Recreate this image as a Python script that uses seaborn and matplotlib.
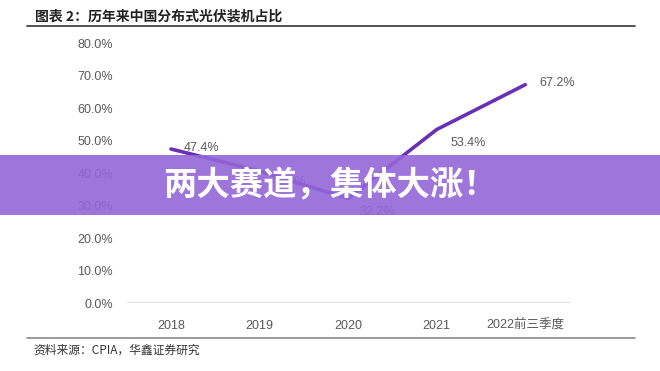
import matplotlib
matplotlib.use("Agg")
import matplotlib.pyplot as plt
import seaborn as sns
import pandas as pd
from matplotlib.lines import Line2D
from matplotlib.patches import Rectangle

years = ["2018", "2019", "2020", "2021", "2022前三季度"]
share = [0.474, 0.406, 0.322, 0.534, 0.672]
labels = ["47.4%", "40.6%", "32.2%", "53.4%", "67.2%"]
yticks = [0.0, 0.1, 0.2, 0.3, 0.4, 0.5, 0.6, 0.7, 0.8]

title = "图表 2：历年来中国分布式光伏装机占比"
source = "资料来源：CPIA，华鑫证券研究"
banner = "两大赛道，集体大涨！"

sns.set_theme(style="white")
plt.rcParams["font.family"] = ["Liberation Sans", "Noto Sans CJK SC", "DejaVu Sans"]

df = pd.DataFrame({"year": years, "share": share})

fig = plt.figure(figsize=(6.6, 3.71), dpi=100)
ax = fig.add_axes([0.192, 0.183, 0.671, 0.701])

sns.lineplot(data=df, x="year", y="share", ax=ax, color="#6B2FB3", linewidth=2.6, sort=False)

ax.set_xlim(-0.5, len(years) - 0.5)
ax.set_ylim(0, 0.8)
ax.set_yticks(yticks)
ax.set_yticklabels([f"{v*100:.1f}%" for v in yticks])
ax.set_xlabel("")
ax.set_ylabel("")
for s in ax.spines.values():
    s.set_visible(False)
ax.axhline(0, color="#d9d9d9", linewidth=1.2)
ax.tick_params(axis="both", length=0, labelsize=9, colors="#595959", pad=10)
ax.tick_params(axis="x", pad=12)
for t in ax.get_xticklabels():
    t.set_family(["Liberation Sans", "Noto Sans CJK SC"])

offsets = [(9, 1), (8, -8), (8, -10), (10, -10), (10, 1)]
for i, (y, lab) in enumerate(zip(share, labels)):
    dx, dy = offsets[i]
    ax.annotate(lab, (i, y), xytext=(dx, dy), textcoords="offset points",
                fontsize=9, color="#595959", va="center", ha="left")

# title, rules, source
fig.text(35 / 660, 1 - 16 / 371, title, fontsize=10, fontweight="heavy", color="#222222",
         va="center", ha="left", family=["Noto Sans CJK SC", "DejaVu Sans"])
fig.add_artist(Line2D([27 / 660, 635 / 660], [1 - 26 / 371] * 2, color="#333333", linewidth=1.2))
fig.add_artist(Line2D([27 / 660, 635 / 660], [1 - 338 / 371] * 2, color="#888888", linewidth=1.2))
fig.text(33 / 660, 1 - 350 / 371, source, fontsize=8.5, color="#333333",
         va="center", ha="left", family=["Noto Sans CJK SC", "DejaVu Sans"])

# overlay banner
fig.add_artist(Rectangle((0, 1 - 215 / 371), 1, 60 / 371, transform=fig.transFigure,
                         facecolor="#9466D8", edgecolor="none", alpha=0.9, zorder=10))
fig.text(0.5, 1 - 186 / 371, banner, fontsize=24, fontweight="heavy", color="white",
         va="center", ha="center", zorder=11, family=["Noto Sans CJK SC", "DejaVu Sans"])

fig.savefig("out.png", dpi=100)
